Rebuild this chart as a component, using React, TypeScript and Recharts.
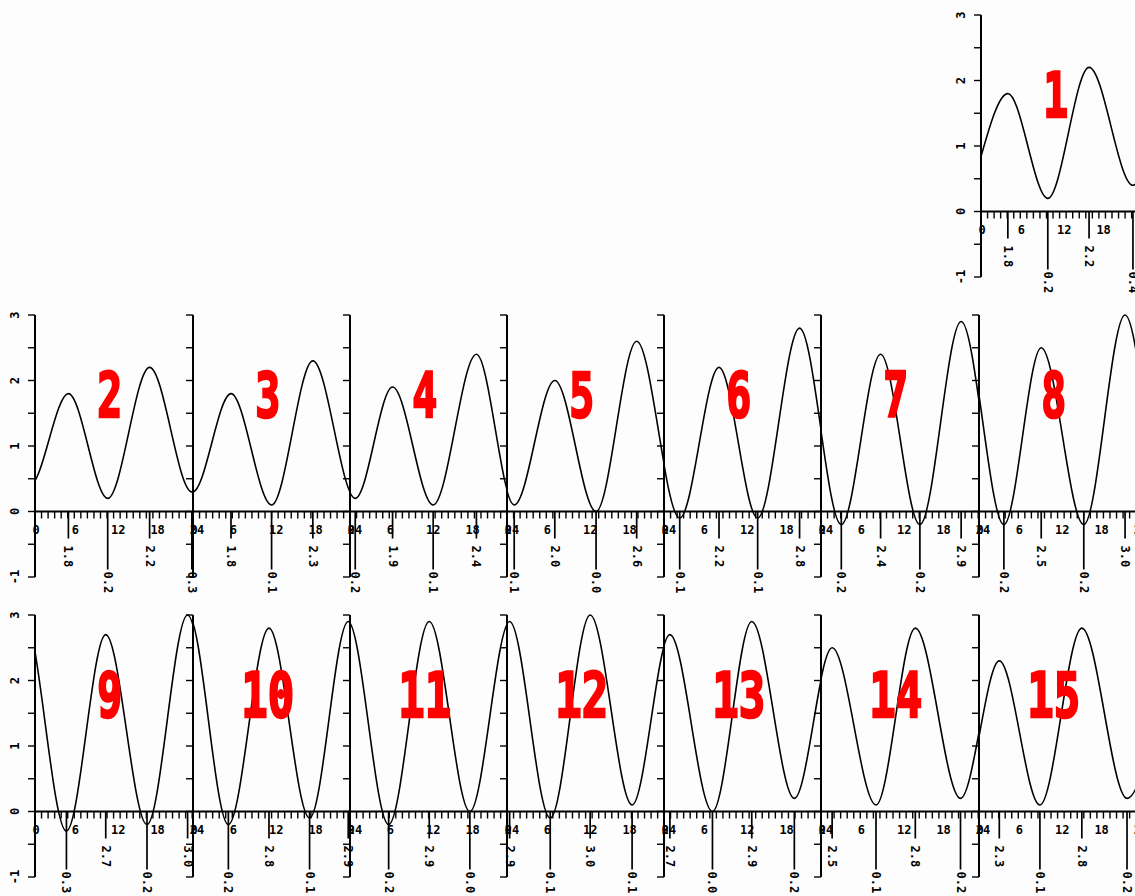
import React from 'react';
import { LineChart, Line, XAxis, YAxis, ReferenceLine, ReferenceDot } from 'recharts';

// ---------- data ----------
const DAY_NUMBERS = [1, 2, 3, 4, 5, 6, 7, 8, 9, 10, 11, 12, 13, 14, 15];

// time of each high / low water, hours since midnight of day 1
const TIDE_TIMES = [
  4.1, 10.2, 16.5, 23.2,
  29.1, 35.1, 41.5, 47.95,
  53.8, 60.0, 66.3,
  72.8, 78.5, 84.7, 91.3,
  97.1, 103.3, 109.6, 115.8,
  122.4, 128.4, 134.3, 140.7,
  147.1, 153.1, 159.1, 165.4,
  171.8, 177.5, 184.0, 190.3,
  196.8, 202.8, 209.1, 215.3,
  221.4, 227.6, 233.8, 239.7,
  245.9, 252.1, 258.3,
  264.4, 270.6, 276.7, 283.1,
  288.9, 295.4, 301.4, 307.9,
  313.7, 320.4, 326.4, 333.3,
  339.1, 345.3, 351.7, 358.6,
];

// height of each high / low water
const TIDE_HEIGHTS = [
  1.8, 0.2, 2.2, 0.4,
  1.8, 0.2, 2.2, 0.3,
  1.8, 0.1, 2.3,
  0.2, 1.9, 0.1, 2.4,
  0.1, 2.0, 0.0, 2.6,
  -0.1, 2.2, -0.1, 2.8,
  -0.2, 2.4, -0.2, 2.9,
  -0.2, 2.5, -0.2, 3.0,
  -0.3, 2.7, -0.2, 3.0,
  -0.2, 2.8, -0.1, 2.9,
  -0.2, 2.9, 0.0,
  2.9, -0.1, 3.0, 0.1,
  2.7, 0.0, 2.9, 0.2,
  2.5, 0.1, 2.8, 0.2,
  2.3, 0.1, 2.8, 0.2,
];

// printed text of each high / low water
const TIDE_LABELS = [
  '1.8', '0.2', '2.2', '0.4',
  '1.8', '0.2', '2.2', '0.3',
  '1.8', '0.1', '2.3',
  '0.2', '1.9', '0.1', '2.4',
  '0.1', '2.0', '0.0', '2.6',
  '0.1', '2.2', '0.1', '2.8',
  '0.2', '2.4', '0.2', '2.9',
  '0.2', '2.5', '0.2', '3.0',
  '0.3', '2.7', '0.2', '3.0',
  '0.2', '2.8', '0.1', '2.9',
  '0.2', '2.9', '0.0',
  '2.9', '0.1', '3.0', '0.1',
  '2.7', '0.0', '2.9', '0.2',
  '2.5', '0.1', '2.8', '0.2',
  '2.3', '0.1', '2.8', '0.2',
];

// curve ends: height at the start of day 1 and (estimated) next high after day 15
const EDGE_TIMES = [0, 364.6];
const EDGE_HEIGHTS = [0.84, 2.3];

const HOUR_TICKS = [0, 1, 2, 3, 4, 5, 6, 7, 8, 9, 10, 11, 12, 13, 14, 15, 16, 17, 18, 19, 20, 21, 22, 23, 24];
const HOUR_TICK_LABELS = [0, 6, 12, 18, 24];
const HEIGHT_TICKS = [3, 2.5, 2, 1.5, 1, 0.5, 0, -0.5, -1];
const HEIGHT_TICK_LABELS = [3, 2, 1, 0, -1];

// ---------- layout ----------
const HOUR_PX = 6.55;
const PLOT_W = 24 * HOUR_PX;
const PLOT_H = 262;
const AXIS_W = 36;
const MARGIN = { top: 12, right: 12, bottom: 52, left: 0 };
const COL_X0 = 35.3;
const COL_STEP = 157.2;
const ROW_TOP = [15, 315, 615];
const FONT = '"DejaVu Sans Mono", monospace';

const CURVE = [
  ...EDGE_TIMES.map((t, i) => ({ t, v: EDGE_HEIGHTS[i] })),
  ...TIDE_TIMES.map((t, i) => ({ t, v: TIDE_HEIGHTS[i] })),
].sort((a, b) => a.t - b.t);

function panelPos(day: number) {
  if (day === 1) return { axisX: 980.5, top: ROW_TOP[0], labels: true };
  const idx = day - 2;
  const row = 1 + Math.floor(idx / 7);
  const col = idx % 7;
  return { axisX: COL_X0 + col * COL_STEP, top: ROW_TOP[row], labels: col === 0 };
}

const hourTickShape = (h: number) => (p: any) => (
  <g>
    <line x1={p.cx} y1={p.cy} x2={p.cx} y2={p.cy + 7} stroke="#000" strokeWidth={1.4} />
    {HOUR_TICK_LABELS.includes(h) && (
      <text x={p.cx - 2.5} y={p.cy + 23} fontSize={12} fontFamily={FONT} fontWeight="bold" fill="#000">
        {h}
      </text>
    )}
  </g>
);

const markShape = (label: string, isHigh: boolean) => (p: any) => {
  const len = isHigh ? 27 : 58;
  const ty = p.cy + (isHigh ? 34 : 60);
  return (
    <g>
      <line x1={p.cx} y1={p.cy} x2={p.cx} y2={p.cy + len} stroke="#000" strokeWidth={1.7} />
      <text
        x={p.cx}
        y={ty}
        transform={`rotate(90 ${p.cx} ${ty})`}
        dominantBaseline="central"
        fontSize={12}
        fontFamily={FONT}
        fontWeight="bold"
        fill="#000"
      >
        {label}
      </text>
    </g>
  );
};

const dayShape = (day: number) => (p: any) => {
  const n = String(day).length;
  return (
    <text
      x={p.cx}
      y={p.cy + 22}
      textAnchor="middle"
      fill="#ff0000"
      stroke="#ff0000"
      strokeWidth={2.6}
      strokeLinejoin="miter"
      fontSize={62}
      fontWeight="bold"
      fontFamily={FONT}
      textLength={n * 25 + (n - 1) * 3}
      lengthAdjust="spacingAndGlyphs"
    >
      {day}
    </text>
  );
};

const yTick = (show: boolean) => (p: any) => {
  const v = p.payload.value;
  if (!show || !HEIGHT_TICK_LABELS.includes(v)) return <g />;
  const cx = p.x - 10.5;
  return (
    <text
      x={cx}
      y={p.y}
      transform={`rotate(-90 ${cx} ${p.y})`}
      textAnchor="middle"
      dominantBaseline="central"
      fontSize={12}
      fontFamily={FONT}
      fontWeight="bold"
      fill="#000"
    >
      {v}
    </text>
  );
};

function Panel({ day }: { day: number }) {
  const { axisX, top, labels } = panelPos(day);
  const start = (day - 1) * 24;
  const data = CURVE.filter((p) => p.t >= start - 14 && p.t <= start + 38).map((p) => ({ h: p.t - start, v: p.v }));
  const marks = TIDE_TIMES.map((t, i) => ({ h: t - start, v: TIDE_HEIGHTS[i], label: TIDE_LABELS[i] })).filter(
    (m) => m.h >= 0 && m.h < 24
  );
  return (
    <div style={{ position: 'absolute', left: axisX - AXIS_W, top: top - MARGIN.top }}>
      <LineChart
        width={AXIS_W + PLOT_W + MARGIN.right}
        height={MARGIN.top + PLOT_H + MARGIN.bottom}
        data={data}
        margin={MARGIN}
      >
        <XAxis dataKey="h" type="number" domain={[0, 24]} allowDataOverflow hide />
        <YAxis
          type="number"
          domain={[-1, 3]}
          ticks={HEIGHT_TICKS}
          interval={0}
          width={AXIS_W}
          tickSize={7}
          axisLine={{ stroke: '#000', strokeWidth: 2 }}
          tickLine={{ stroke: '#000', strokeWidth: 1.4 }}
          tick={yTick(labels)}
        />
        <ReferenceLine y={0} stroke="#000" strokeWidth={2} />
        {HOUR_TICKS.map((h) => (
          <ReferenceDot key={'t' + h} x={h} y={0} r={0} ifOverflow="visible" shape={hourTickShape(h)} />
        ))}
        {marks.map((m, i) => (
          <ReferenceDot key={'m' + i} x={m.h} y={0} r={0} ifOverflow="visible" shape={markShape(m.label, m.v > 1)} />
        ))}
        <ReferenceDot x={11.4} y={1.78} r={0} ifOverflow="visible" shape={dayShape(day)} />
        <Line
          dataKey="v"
          type="monotone"
          stroke="#000"
          strokeWidth={1.6}
          dot={false}
          activeDot={false}
          isAnimationActive={false}
        />
      </LineChart>
    </div>
  );
}

export default function App() {
  return (
    <div
      style={{
        position: 'absolute',
        left: 0,
        top: 0,
        width: 1135,
        height: 896,
        background: '#fdfdfd',
        overflow: 'hidden',
      }}
    >
      {DAY_NUMBERS.map((day) => (
        <Panel key={day} day={day} />
      ))}
    </div>
  );
}
